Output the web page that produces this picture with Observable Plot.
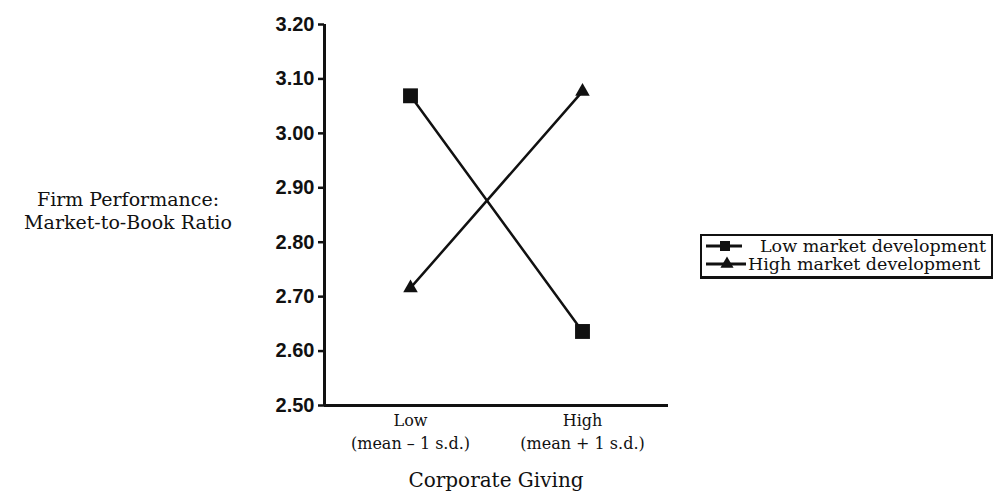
<!DOCTYPE html>
<html>
<head>
<meta charset="utf-8">
<script src="https://cdn.jsdelivr.net/npm/d3@7"></script>
<script src="https://cdn.jsdelivr.net/npm/@observablehq/plot@0.6"></script>
<style>
  html, body { margin: 0; padding: 0; background: #fff; }
  #wrap { position: relative; width: 995px; height: 493px; overflow: hidden; }
  .serif { font-family: "DejaVu Serif", serif; color: #111; }
  #ylab { position: absolute; left: 0; width: 256px; top: 188px; text-align: center; font-size: 19px; line-height: 23px; }
  #xtitle { position: absolute; left: 324px; width: 344px; top: 467px; text-align: center; font-size: 20px; line-height: 26px; }
  #legend { position: absolute; left: 700px; top: 234px; width: 289px; height: 40px; border: 2px solid #111; border-bottom-width: 3px; }
  .item { position: absolute; left: 0; height: 20px; line-height: 20px; white-space: nowrap; font-size: 17.5px; }
  .item svg { position: absolute; left: 4px; top: 0px; }
  .item span { position: absolute; top: 0; }
</style>
</head>
<body>
<div id="wrap">
  <div id="ylab" class="serif">Firm Performance:<br>Market-to-Book Ratio</div>
  <div id="xtitle" class="serif">Corporate Giving</div>
  <div id="legend"></div>
</div>
<script>
// ---- data ----
const categories = ["Low", "High"];
const categoryLabels = ["Low\n(mean \u2013 1 s.d.)", "High\n(mean + 1 s.d.)"];
const seriesNames = ["Low market development", "High market development"];
const lowMarketValues = [3.069, 2.636];
const highMarketValues = [2.716, 3.077];
const yTicks = [2.50, 2.60, 2.70, 2.80, 2.90, 3.00, 3.10, 3.20];

const rows = [];
categories.forEach((c, i) => {
  rows.push({series: seriesNames[0], xi: i, value: lowMarketValues[i]});
  rows.push({series: seriesNames[1], xi: i, value: highMarketValues[i]});
});
const lowRows = rows.filter(d => d.series === seriesNames[0]);
const highRows = rows.filter(d => d.series === seriesNames[1]);

const chart = Plot.plot({
  width: 995,
  height: 493,
  marginLeft: 324,
  marginRight: 327,
  marginTop: 24,
  marginBottom: 88,
  style: {background: "transparent", color: "#111"},
  x: {type: "linear", domain: [-0.5, categories.length - 0.5]},
  y: {domain: [2.5, 3.2]},
  marks: [
    Plot.axisY({
      ticks: yTicks, tickFormat: d => d.toFixed(2), tickSize: 6, tickPadding: 4,
      strokeWidth: 2.5, label: null,
      fontFamily: "Liberation Sans, Arial, sans-serif", fontWeight: "bold", fontSize: 20
    }),
    Plot.axisX({
      ticks: d3.range(categories.length), tickFormat: i => categoryLabels[i],
      tickSize: 0, tickPadding: 5, label: null, lineHeight: 1.4,
      fontFamily: "DejaVu Serif, serif", fontSize: 16
    }),
    Plot.ruleX([-0.5], {stroke: "#111", strokeWidth: 3}),
    Plot.ruleY([2.5], {stroke: "#111", strokeWidth: 3}),
    Plot.line(rows, {x: "xi", y: "value", z: "series", stroke: "#111", strokeWidth: 2.5}),
    Plot.dot(lowRows, {x: "xi", y: "value", symbol: "square", r: 8.4, fill: "#111", stroke: null}),
    Plot.dot(highRows, {x: "xi", y: "value", symbol: "triangle", r: 5.4, fill: "#111", stroke: null})
  ]
});
document.getElementById("wrap").prepend(chart);

// ---- legend ----
const legend = document.getElementById("legend");
const sym = [d3.symbol(d3.symbolSquare, 100)(), d3.symbol(d3.symbolTriangle, 75)()];
const textLeft = [58, 46];
const lineLen = [36, 40];
seriesNames.forEach((name, i) => {
  const item = document.createElement("div");
  item.className = "item serif";
  item.style.top = (0 + i * 18) + "px";
  item.innerHTML = `<svg width="42" height="20"><line x1="0" x2="${lineLen[i]}" y1="10" y2="10" stroke="#111" stroke-width="3"/><path transform="translate(${lineLen[i] / 2 + 1},10)" d="${sym[i]}" fill="#111"/></svg><span style="left:${textLeft[i]}px">${name}</span>`;
  legend.appendChild(item);
});
</script>
</body>
</html>
